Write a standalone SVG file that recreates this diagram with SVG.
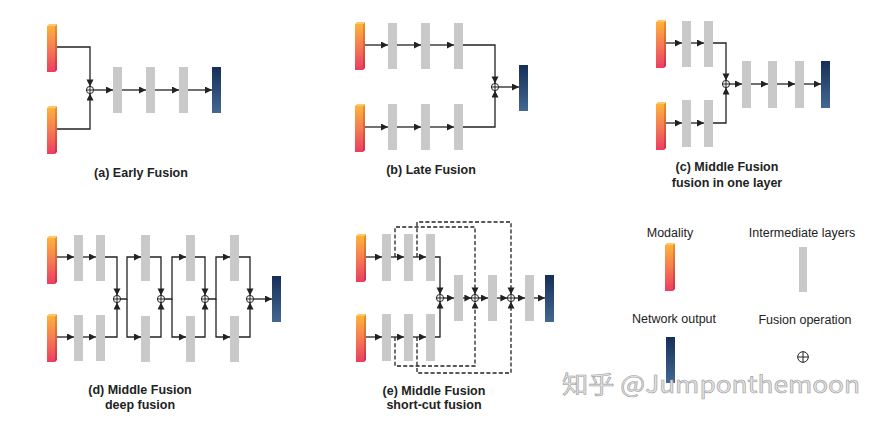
<svg xmlns="http://www.w3.org/2000/svg" xmlns:xlink="http://www.w3.org/1999/xlink" width="884" height="425" viewBox="0 0 884 425">
<style>
.ln{fill:none;stroke:#222;stroke-width:1.3}
.ar{marker-end:url(#ah)}
.ds{fill:none;stroke:#222;stroke-width:1.3;stroke-dasharray:4 2.2}
.gr{fill:#c9c9c9}
.out{fill:url(#gOut)}
.cap{font-family:"Liberation Sans",Arial,sans-serif;font-weight:bold;font-size:12.5px;fill:#222;text-anchor:middle}
.leg{font-family:"Liberation Sans",Arial,sans-serif;font-size:12.5px;fill:#222;text-anchor:middle}
.wm{font-family:"Noto Sans CJK SC","Noto Sans",sans-serif;font-size:24px;fill:#e4e4e4;stroke:#9c9c9c;stroke-width:0.6}
</style>
<defs>
<marker id="ah" markerUnits="userSpaceOnUse" markerWidth="8" markerHeight="8" refX="7" refY="3.5" orient="auto">
<path d="M0,0 L7,3.5 L0,7 z" fill="#222"/>
</marker>
<linearGradient id="gMod" x1="0" y1="0" x2="0" y2="1">
<stop offset="0" stop-color="#fdb23a"/>
<stop offset="0.5" stop-color="#f57a52"/>
<stop offset="1" stop-color="#ec3d62"/>
</linearGradient>
<linearGradient id="gModS" x1="0" y1="0" x2="0" y2="1">
<stop offset="0" stop-color="#e8952c"/>
<stop offset="1" stop-color="#c92e50"/>
</linearGradient>
<linearGradient id="gOut" x1="0" y1="0" x2="0" y2="1">
<stop offset="0" stop-color="#172f58"/>
<stop offset="1" stop-color="#426892"/>
</linearGradient>
<g id="mod">
<rect x="0" y="2" width="8" height="46" fill="url(#gMod)"/>
<polygon points="8,2 10,0 10,46 8,48" fill="url(#gModS)"/>
<polygon points="0,2 2,0 10,0 8,2" fill="#fcc66a"/>
</g>
<g id="fuse">
<circle r="3.6" fill="#fff" stroke="#222" stroke-width="1"/>
<path d="M-3.6,0H3.6M0,-3.6V3.6" stroke="#222" stroke-width="1"/>
</g>
</defs>

<!-- (a) Early Fusion -->
<g id="panel-a">
<use href="#mod" x="47" y="24"/>
<use href="#mod" x="47" y="106"/>
<rect class="gr" x="113" y="67" width="9" height="46"/>
<rect class="gr" x="146" y="67" width="9" height="46"/>
<rect class="gr" x="179" y="67" width="9" height="46"/>
<rect class="out" x="212" y="67" width="9" height="46"/>
<text class="cap" x="141" y="177">(a) Early Fusion</text>
</g>

<!-- (b) Late Fusion -->
<g id="panel-b">
<use href="#mod" x="355" y="22"/>
<use href="#mod" x="355" y="104"/>
<rect class="gr" x="388" y="23" width="9" height="46"/>
<rect class="gr" x="421" y="23" width="9" height="46"/>
<rect class="gr" x="454" y="23" width="9" height="46"/>
<rect class="gr" x="388" y="104" width="9" height="46"/>
<rect class="gr" x="421" y="104" width="9" height="46"/>
<rect class="gr" x="454" y="104" width="9" height="46"/>
<rect class="out" x="519" y="65" width="9" height="46"/>
<text class="cap" x="431" y="174">(b) Late Fusion</text>
</g>

<!-- (c) Middle Fusion, one layer -->
<g id="panel-c">
<use href="#mod" x="656" y="20"/>
<use href="#mod" x="656" y="102"/>
<rect class="gr" x="682" y="21" width="9" height="46"/>
<rect class="gr" x="704" y="21" width="9" height="46"/>
<rect class="gr" x="682" y="100" width="9" height="47"/>
<rect class="gr" x="704" y="100" width="9" height="47"/>
<rect class="gr" x="742" y="61" width="9" height="47"/>
<rect class="gr" x="768" y="61" width="9" height="47"/>
<rect class="gr" x="795" y="61" width="9" height="47"/>
<rect class="out" x="821" y="61" width="9" height="47"/>
<text class="cap" x="727" y="171">(c) Middle Fusion</text>
<text class="cap" x="727" y="187">fusion in one layer</text>
</g>

<!-- (d) Middle Fusion, deep -->
<g id="panel-d">
<use href="#mod" x="47" y="236"/>
<use href="#mod" x="47" y="314"/>
<rect class="gr" x="74" y="235" width="9" height="46"/>
<rect class="gr" x="96" y="235" width="9" height="46"/>
<rect class="gr" x="74" y="315" width="9" height="46"/>
<rect class="gr" x="96" y="315" width="9" height="46"/>
<rect class="gr" x="141" y="235" width="9" height="46"/>
<rect class="gr" x="141" y="316" width="9" height="46"/>
<rect class="gr" x="186" y="235" width="9" height="46"/>
<rect class="gr" x="186" y="316" width="9" height="46"/>
<rect class="gr" x="230" y="235" width="9" height="46"/>
<rect class="gr" x="230" y="316" width="9" height="46"/>
<rect class="out" x="272" y="276" width="9" height="46"/>
<text class="cap" x="140" y="394">(d) Middle Fusion</text>
<text class="cap" x="140" y="409">deep fusion</text>
</g>

<!-- (e) Middle Fusion, short-cut -->
<g id="panel-e">
<use href="#mod" x="356" y="234"/>
<use href="#mod" x="356" y="314"/>
<rect class="gr" x="382" y="234" width="9" height="47"/>
<rect class="gr" x="404" y="234" width="9" height="47"/>
<rect class="gr" x="426" y="234" width="9" height="47"/>
<rect class="gr" x="382" y="314" width="9" height="47"/>
<rect class="gr" x="404" y="314" width="9" height="47"/>
<rect class="gr" x="426" y="314" width="9" height="47"/>
<rect class="gr" x="454" y="275" width="9" height="46"/>
<rect class="gr" x="488" y="275" width="9" height="46"/>
<rect class="gr" x="525" y="275" width="9" height="46"/>
<rect class="out" x="545" y="275" width="9" height="47"/>
<text class="cap" x="434" y="395">(e) Middle Fusion</text>
<text class="cap" x="434" y="409">short-cut fusion</text>
</g>

<!-- connectors -->
<g id="connectors">
<!-- a -->
<path class="ln ar" d="M57,47 H90 V86.4"/>
<path class="ln ar" d="M57,129 H90 V93.6"/>
<path class="ln ar" d="M93.6,90 H113"/>
<path class="ln ar" d="M122,90 H146"/>
<path class="ln ar" d="M155,90 H179"/>
<path class="ln ar" d="M188,90 H212"/>
<!-- b -->
<path class="ln ar" d="M365,45 H388"/>
<path class="ln ar" d="M397,45 H421"/>
<path class="ln ar" d="M430,45 H454"/>
<path class="ln ar" d="M463,45 H495 V83.4"/>
<path class="ln ar" d="M365,127 H388"/>
<path class="ln ar" d="M397,127 H421"/>
<path class="ln ar" d="M430,127 H454"/>
<path class="ln ar" d="M463,127 H495 V90.6"/>
<path class="ln ar" d="M498.6,87 H519"/>
<!-- c -->
<path class="ln ar" d="M666,43 H682"/>
<path class="ln ar" d="M691,43 H704"/>
<path class="ln ar" d="M713,43 H726 V80.4"/>
<path class="ln ar" d="M666,123 H682"/>
<path class="ln ar" d="M691,123 H704"/>
<path class="ln ar" d="M713,123 H726 V87.6"/>
<path class="ln ar" d="M729.6,84 H742"/>
<path class="ln ar" d="M751,84 H768"/>
<path class="ln ar" d="M777,84 H795"/>
<path class="ln ar" d="M804,84 H821"/>
<!-- d -->
<path class="ln ar" d="M57,257 H74"/>
<path class="ln ar" d="M83,257 H96"/>
<path class="ln ar" d="M105,257 H117 V295.4"/>
<path class="ln ar" d="M57,337 H74"/>
<path class="ln ar" d="M83,337 H96"/>
<path class="ln ar" d="M105,337 H117 V302.6"/>
<path class="ln ar" d="M120.6,299 H127 V257 H141"/>
<path class="ln ar" d="M127,299 V337 H141"/>
<path class="ln ar" d="M150,257 H161 V295.4"/>
<path class="ln ar" d="M150,337 H161 V302.6"/>
<path class="ln ar" d="M164.6,299 H172 V257 H186"/>
<path class="ln ar" d="M172,299 V337 H186"/>
<path class="ln ar" d="M195,257 H205 V295.4"/>
<path class="ln ar" d="M195,337 H205 V302.6"/>
<path class="ln ar" d="M208.6,299 H216 V257 H230"/>
<path class="ln ar" d="M216,299 V337 H230"/>
<path class="ln ar" d="M239,257 H250 V295.4"/>
<path class="ln ar" d="M239,337 H250 V302.6"/>
<path class="ln ar" d="M253.6,299 H272"/>
<!-- e -->
<path class="ln ar" d="M366,257 H382"/>
<path class="ln ar" d="M391,257 H404"/>
<path class="ln ar" d="M413,257 H426"/>
<path class="ln ar" d="M435,257 H440 V294.4"/>
<path class="ln ar" d="M366,337 H382"/>
<path class="ln ar" d="M391,337 H404"/>
<path class="ln ar" d="M413,337 H426"/>
<path class="ln ar" d="M435,337 H440 V301.6"/>
<path class="ln ar" d="M443.6,298 H454"/>
<path class="ln ar" d="M463,298 H471.4"/>
<path class="ln ar" d="M478.6,298 H488"/>
<path class="ln ar" d="M497,298 H507.4"/>
<path class="ln ar" d="M514.6,298 H525"/>
<path class="ln ar" d="M534,298 H545"/>
<path class="ds ar" d="M395,257 V227 H475 V294.4"/>
<path class="ds ar" d="M417,257 V222 H511 V294.4"/>
<path class="ds ar" d="M395,337 V366 H475 V301.6"/>
<path class="ds ar" d="M417,337 V373 H511 V301.6"/>
</g>

<!-- fusion operations -->
<g id="fusions">
<use href="#fuse" x="90" y="90"/>
<use href="#fuse" x="495" y="87"/>
<use href="#fuse" x="726" y="84"/>
<use href="#fuse" x="117" y="299"/>
<use href="#fuse" x="161" y="299"/>
<use href="#fuse" x="205" y="299"/>
<use href="#fuse" x="250" y="299"/>
<use href="#fuse" x="440" y="298"/>
<use href="#fuse" x="475" y="298"/>
<use href="#fuse" x="511" y="298"/>
</g>

<!-- legend -->
<g id="legend">
<text class="leg" x="670" y="237">Modality</text>
<use href="#mod" x="665" y="243"/>
<text class="leg" x="802" y="237">Intermediate layers</text>
<rect class="gr" x="799" y="247" width="8" height="45"/>
<text class="leg" x="674" y="323">Network output</text>
<rect class="out" x="666" y="337" width="9" height="46"/>
<text class="leg" x="805" y="324">Fusion operation</text>
<g transform="translate(803,357)">
<circle r="5.3" fill="#fff" stroke="#222" stroke-width="1"/>
<path d="M-5.3,0H5.3M0,-5.3V5.3" stroke="#222" stroke-width="1"/>
</g>
</g>

<text class="wm" x="562" y="393" textLength="298" lengthAdjust="spacingAndGlyphs">知乎 @Jumponthemoon</text>
</svg>
